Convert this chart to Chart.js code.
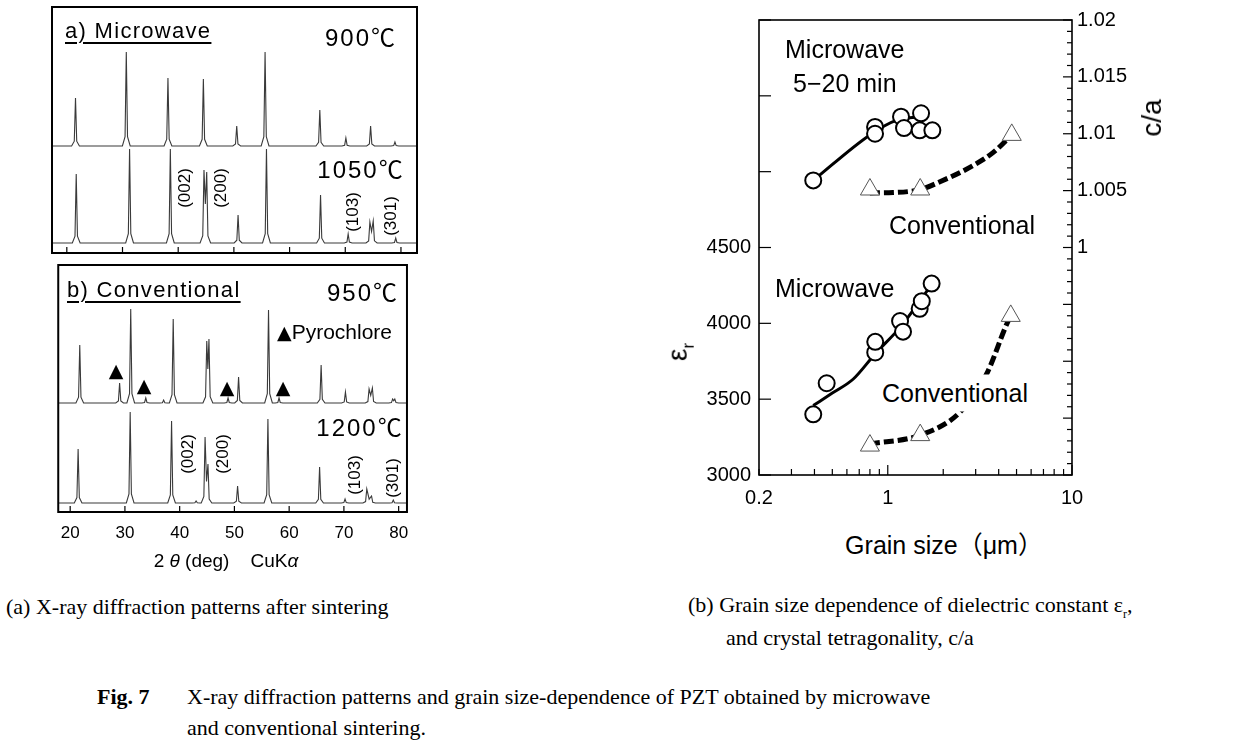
<!DOCTYPE html>
<html>
<head>
<meta charset="utf-8">
<script src="https://cdn.jsdelivr.net/npm/chart.js@4.4.1/dist/chart.umd.min.js"></script>
<style>
  html, body { margin: 0; padding: 0; background: #fff; }
  body { width: 1252px; height: 743px; position: relative; overflow: hidden;
         font-family: "Liberation Sans", "Noto Sans CJK JP", sans-serif; color: #000; }
  canvas { position: absolute; }
  .t { position: absolute; white-space: nowrap; line-height: 1; }
  .c { transform: translate(-50%, -50%); }
  .l { transform: translateY(-50%); }
  .rot { transform: translate(-50%, -50%) rotate(-90deg); }
  .ul { text-decoration: underline; text-decoration-thickness: 1.5px; text-underline-offset: 4px; }
  .cap { font-family: "Liberation Serif", "DejaVu Serif", serif; font-size: 22px; }
  .tri { font-family: "DejaVu Sans", sans-serif; font-size: 19px; }
</style>
</head>
<body>

<canvas id="xrdA" width="369" height="250" style="left:50px;top:5px"></canvas>
<canvas id="xrdB" width="369" height="290" style="left:50px;top:263px"></canvas>
<canvas id="grain" width="614" height="515" style="left:638px;top:0px"></canvas>

<!-- XRD panel a -->
<div class="t l ul" style="left:65px;top:31px;font-size:22px;letter-spacing:1.3px">a) Microwave</div>
<div class="t c" style="left:361px;top:38px;font-size:24px;letter-spacing:2px">900℃</div>
<div class="t c" style="left:361px;top:170px;font-size:24px;letter-spacing:2px">1050℃</div>
<div class="t rot" style="left:184px;top:188px;font-size:17px">(002)</div>
<div class="t rot" style="left:220px;top:188px;font-size:17px">(200)</div>
<div class="t rot" style="left:352px;top:212px;font-size:17px">(103)</div>
<div class="t rot" style="left:390px;top:216px;font-size:17px">(301)</div>

<!-- XRD panel b -->
<div class="t l ul" style="left:67px;top:290px;font-size:22px;letter-spacing:1.3px">b) Conventional</div>
<div class="t c" style="left:363px;top:293px;font-size:24px;letter-spacing:2px">950℃</div>
<div class="t l" style="left:277px;top:331px;font-size:21px"><span class="tri">▲</span>Pyrochlore</div>
<div class="t c tri" style="left:116px;top:370px">▲</div>
<div class="t c tri" style="left:144px;top:385px">▲</div>
<div class="t c tri" style="left:227px;top:387px">▲</div>
<div class="t c tri" style="left:283px;top:387px">▲</div>
<div class="t c" style="left:360px;top:428px;font-size:24px;letter-spacing:2px">1200℃</div>
<div class="t rot" style="left:187px;top:454px;font-size:17px">(002)</div>
<div class="t rot" style="left:222px;top:454px;font-size:17px">(200)</div>
<div class="t rot" style="left:354px;top:475px;font-size:17px">(103)</div>
<div class="t rot" style="left:392px;top:478px;font-size:17px">(301)</div>
<div class="t c" style="left:226px;top:560px;font-size:19px">2 <i>θ</i> (deg)&nbsp;&nbsp;&nbsp;&nbsp;CuK<i>α</i></div>

<!-- grain size panel -->
<div class="t l" style="left:785px;top:49px;font-size:25px">Microwave</div>
<div class="t l" style="left:793px;top:83px;font-size:25px">5−20 min</div>
<div class="t l" style="left:889px;top:225px;font-size:25px">Conventional</div>
<div class="t l" style="left:775px;top:288px;font-size:25px">Microwave</div>
<div class="t l" style="left:878px;top:393px;font-size:25px;background:#fff;padding:6px 4px">Conventional</div>
<div class="t rot" style="left:680px;top:352px;font-size:28px">ε<sub style="font-size:17px">r</sub></div>
<div class="t rot" style="left:1152px;top:118px;font-size:28px">c/a</div>
<div class="t c" style="left:944px;top:545px;font-size:25px">Grain size（μm）</div>

<!-- captions -->
<div class="t l cap" style="left:6px;top:607px">(a) X-ray diffraction patterns after sintering</div>
<div class="t l cap" style="left:688px;top:607px">(b) Grain size dependence of dielectric constant ε<sub style="font-size:12px">r</sub>,</div>
<div class="t l cap" style="left:726px;top:638px">and crystal tetragonality, c/a</div>
<div class="t l cap" style="left:97px;top:697px;font-weight:bold">Fig. 7</div>
<div class="t l cap" style="left:187px;top:697px">X-ray diffraction patterns and grain size-dependence of PZT obtained by microwave</div>
<div class="t l cap" style="left:187px;top:728px">and conventional sintering.</div>

<script>
// ---- XRD peaks: [2θ (deg), height (a.u.)] per sintering condition ----
const peaksMw900 = [[21.56, 48], [30.68, 94], [38.16, 68], [44.52, 67], [50.51, 20], [55.6, 94],
                    [65.43, 36], [70.11, 8], [74.55, 20], [78.92, 4]];
const peaksMw1050 = [[21.69, 69], [31.27, 94], [38.59, 94], [44.63, 73], [45.12, 71], [50.75, 28],
                     [55.85, 94], [65.56, 48], [70.52, 9], [74.42, 21], [75.02, 22], [79.06, 5]];
const peaksConv950 = [[21.75, 58], [29.03, 20], [31.06, 94], [33.81, 5], [37.07, 3], [38.82, 84],
                      [44.95, 62], [45.35, 64], [48.84, 5], [50.76, 26], [56.23, 93], [58.15, 5],
                      [65.84, 38], [70.28, 11], [74.6, 14], [75.2, 15], [78.9, 4], [79.3, 4]];
const peaksConv1200 = [[21.45, 54], [30.96, 91], [38.52, 82], [43.0, 2], [44.64, 66], [45.17, 39],
                       [50.58, 17], [56.12, 84], [65.56, 36], [70.21, 4], [74.18, 14], [75.05, 7],
                       [79.02, 3]];
// vertical stacking of the two patterns in each frame
const offsetMw900 = 107, offsetMw1050 = 10;
const offsetConv950 = 109, offsetConv1200 = 9;
const twoThetaTicks = [20, 30, 40, 50, 60, 70, 80];

// ---- grain size dependence ----
const mwCaSize = [0.394, 0.853, 0.853, 1.18, 1.225, 1.516, 1.49, 1.746];
const mwCa     = [1.0059, 1.0106, 1.0100, 1.0115, 1.0105, 1.0118, 1.0103, 1.0103];
const convCaSize = [0.80, 1.50, 4.71];
const convCa     = [1.0051, 1.0051, 1.0099];
const mwEpsSize = [0.394, 0.466, 0.855, 0.855, 1.166, 1.21, 1.49, 1.53, 1.73];
const mwEps     = [3400, 3605, 3808, 3878, 4015, 3945, 4096, 4146, 4262];
const convEpsSize = [0.80, 1.50, 4.65];
const convEps     = [3194, 3263, 4049];

// hand-drawn trend curves
const mwCaFitSize = [0.394, 0.80, 1.12, 1.5];
const mwCaFit     = [1.0059, 1.0099, 1.0112, 1.0115];
const convCaFitSize = [0.80, 1.07, 1.5, 1.92, 2.91, 3.74, 4.71];
const convCaFit     = [1.0048, 1.00483, 1.0051, 1.00578, 1.00721, 1.00836, 1.0099];
const mwEpsFitSize = [0.394, 0.5, 0.65, 0.855, 1.17, 1.73];
const mwEpsFit     = [3458, 3540, 3633, 3800, 3975, 4255];
const convEpsFitSize = [0.80, 1.5, 2.47, 3.44, 4.42, 4.65];
const convEpsFit     = [3205, 3263, 3415, 3666, 3994, 4049];

const grainTicks = [0.2, 0.3, 0.4, 0.5, 0.6, 0.7, 0.8, 0.9, 1, 2, 3, 4, 5, 6, 7, 8, 9, 10];
const grainLabels = [0.2, 1, 10];
const epsTicks = [3000, 3500, 4000, 4500, 5000, 5500, 6000];
const epsLabels = [3000, 3500, 4000, 4500];
const caLabels = [1, 1.005, 1.01, 1.015, 1.02];
const caTicks = [];
for (let k = 980; k <= 1020; k++) caTicks.push(k / 1000);

Chart.defaults.font.family = '"Liberation Sans", "Noto Sans CJK JP", sans-serif';
Chart.defaults.color = '#000';

const pts = (xs, ys) => xs.map((x, i) => ({ x, y: ys[i] }));

// peak list -> polyline with narrow feet; close neighbours share a valley
function pattern(peaks, offset) {
  const out = [{ x: 17, y: offset }];
  peaks.forEach(([p, h], i) => {
    const prev = peaks[i - 1], next = peaks[i + 1];
    if (prev && p - prev[0] < 1) {
      out.push({ x: (p + prev[0]) / 2, y: offset + Math.min(h, prev[1]) * 0.55 });
    } else {
      out.push({ x: p - 0.7, y: offset }, { x: p - 0.22, y: offset + h * 0.1 });
    }
    out.push({ x: p, y: offset + h });
    if (!(next && next[0] - p < 1)) {
      out.push({ x: p + 0.22, y: offset + h * 0.1 }, { x: p + 0.7, y: offset });
    }
  });
  out.push({ x: 83, y: offset });
  return out;
}

// frame around the plot area plus inward tick marks
function frame(width, marks) {
  return {
    id: 'frame',
    afterDatasetsDraw(chart) {
      const { ctx, chartArea: a } = chart;
      ctx.save();
      ctx.strokeStyle = '#000';
      ctx.lineWidth = width;
      ctx.strokeRect(a.left, a.top, a.right - a.left, a.bottom - a.top);
      ctx.lineWidth = 1.2;
      marks.forEach(m => {
        const s = chart.scales[m.axis];
        s.ticks.forEach(t => {
          const len = m.isMajor(t.value) ? m.major : m.minor;
          const p = s.getPixelForValue(t.value);
          ctx.beginPath();
          if (m.side === 'bottom') { ctx.moveTo(p, a.bottom); ctx.lineTo(p, a.bottom - len); }
          else if (m.side === 'left') { ctx.moveTo(a.left, p); ctx.lineTo(a.left + len, p); }
          else { ctx.moveTo(a.right, p); ctx.lineTo(a.right - len, p); }
          ctx.stroke();
        });
      });
      ctx.restore();
    }
  };
}

const traceStyle = { borderColor: '#3a3a3a', borderWidth: 1.1, pointRadius: 0, tension: 0, showLine: true };

function xrdChart(id, upper, lower, xMin, xMax, yMax, withLabels) {
  new Chart(document.getElementById(id), {
    type: 'scatter',
    data: {
      datasets: [
        { ...traceStyle, data: pattern(upper[0], upper[1]) },
        { ...traceStyle, data: pattern(lower[0], lower[1]) },
      ],
    },
    options: {
      responsive: false,
      animation: false,
      layout: { padding: { left: 2, right: 2, top: 2, bottom: withLabels ? 0 : 2 } },
      plugins: { legend: { display: false }, tooltip: { enabled: false } },
      scales: {
        x: {
          type: 'linear', min: xMin, max: xMax,
          display: withLabels,
          grid: { display: false, drawTicks: false },
          border: { display: false },
          afterBuildTicks: s => { s.ticks = twoThetaTicks.map(v => ({ value: v })); },
          afterFit: s => { if (withLabels) s.height = 41; },
          ticks: { padding: 11, font: { size: 17 }, autoSkip: false, maxRotation: 0 },
        },
        y: { display: false, min: 0, max: yMax },
      },
    },
    plugins: [frame(2, [{ axis: 'x', side: 'bottom', isMajor: () => true, major: 6, minor: 6 }])],
  });
}

xrdChart('xrdA', [peaksMw900, offsetMw900], [peaksMw1050, offsetMw1050], 17.34, 82.88, 246, false);
xrdChart('xrdB', [peaksConv950, offsetConv950], [peaksConv1200, offsetConv1200], 17.82, 81.52, 247, true);

// ---- ε_r and c/a versus grain size ----
const circle = { showLine: false, pointStyle: 'circle', pointRadius: 8, pointBorderWidth: 2,
                 pointBorderColor: '#000', pointBackgroundColor: '#fff' };
const triangle = { showLine: false, pointStyle: 'triangle', pointRadius: 11, pointBorderWidth: 1,
                   pointBorderColor: '#555', pointBackgroundColor: '#fff' };
const solid = { pointRadius: 0, showLine: true, borderColor: '#000', borderWidth: 3,
                cubicInterpolationMode: 'monotone' };
const dashed = { pointRadius: 0, showLine: true, borderColor: '#000', borderWidth: 5,
                 borderDash: [10, 4], borderCapStyle: 'butt', cubicInterpolationMode: 'monotone' };

new Chart(document.getElementById('grain'), {
  type: 'scatter',
  data: {
    datasets: [
      { ...circle, data: pts(mwCaSize, mwCa), yAxisID: 'y2' },
      { ...triangle, data: pts(convCaSize, convCa), yAxisID: 'y2' },
      { ...circle, data: pts(mwEpsSize, mwEps), yAxisID: 'y' },
      { ...triangle, data: pts(convEpsSize, convEps), yAxisID: 'y' },
      { ...solid, data: pts(mwCaFitSize, mwCaFit), yAxisID: 'y2' },
      { ...dashed, data: pts(convCaFitSize, convCaFit), yAxisID: 'y2' },
      { ...solid, data: pts(mwEpsFitSize, mwEpsFit), yAxisID: 'y' },
      { ...dashed, data: pts(convEpsFitSize, convEpsFit), yAxisID: 'y' },
    ],
  },
  options: {
    responsive: false,
    animation: false,
    layout: { padding: { top: 15, left: 0, right: 0, bottom: 0 } },
    plugins: { legend: { display: false }, tooltip: { enabled: false } },
    scales: {
      x: {
        type: 'logarithmic', min: 0.2, max: 10,
        grid: { display: false, drawTicks: false },
        border: { display: false },
        afterBuildTicks: s => { s.ticks = grainTicks.map(v => ({ value: v })); },
        afterFit: s => { s.height = 40; },
        ticks: { autoSkip: false, maxRotation: 0, padding: 11, font: { size: 20 },
                 callback: v => grainLabels.includes(v) ? String(v) : '' },
      },
      y: {
        position: 'left', min: 3000, max: 6000,
        grid: { display: false, drawTicks: false },
        border: { display: false },
        afterBuildTicks: s => { s.ticks = epsTicks.map(v => ({ value: v })); },
        afterFit: s => { s.width = 121; },
        ticks: { autoSkip: false, padding: 8, font: { size: 20 },
                 callback: v => epsLabels.includes(v) ? String(v) : '' },
      },
      y2: {
        position: 'right', min: 0.98, max: 1.02,
        grid: { display: false, drawTicks: false },
        border: { display: false },
        afterBuildTicks: s => { s.ticks = caTicks.map(v => ({ value: v })); },
        afterFit: s => { s.width = 180; },
        ticks: { autoSkip: false, padding: 5, font: { size: 20 },
                 callback: v => caLabels.some(l => Math.abs(l - v) < 1e-9) ? String(v) : '' },
      },
    },
  },
  plugins: [frame(1.6, [
    { axis: 'x', side: 'bottom', isMajor: v => v === 1 || v === 10, major: 10, minor: 6 },
    { axis: 'y', side: 'left', isMajor: () => true, major: 12, minor: 12 },
    { axis: 'y2', side: 'right', isMajor: v => Math.round(v * 1000) % 5 === 0, major: 9, minor: 5 },
  ])],
});
</script>
</body>
</html>
